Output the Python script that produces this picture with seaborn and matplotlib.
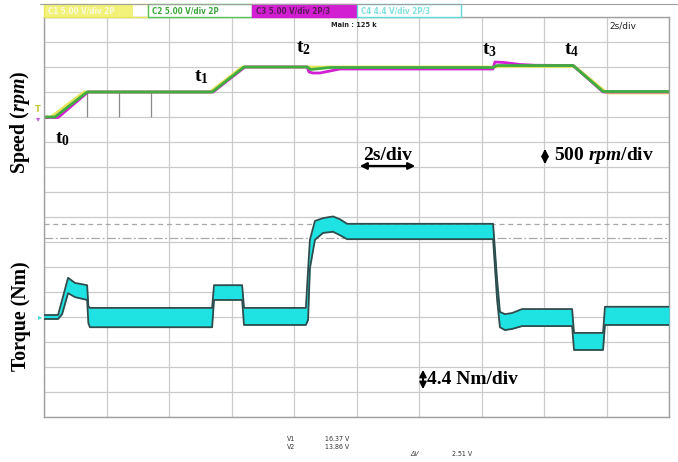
import numpy as np
import pandas as pd
import matplotlib
matplotlib.use("Agg")
import matplotlib.pyplot as plt
from matplotlib.patches import Rectangle, FancyArrowPatch
import seaborn as sns

# ---------------- data ----------------
# speed traces: time (s), speed (rpm)
yellow_t = [0.0, 0.22, 1.28, 5.31, 6.34, 14.43, 14.55, 16.99, 18.02, 20.0]
yellow_v = [0, 0, 500, 500, 1000, 1000, 1010, 1010, 480, 480]

magenta_t = [0.0, 0.45, 1.41, 5.41, 6.43, 8.42, 8.48, 8.61, 8.83, 9.15, 9.47,
             14.37, 14.43, 14.72, 15.23, 15.71, 16.93, 17.89, 20.0]
magenta_v = [-10, -10, 500, 500, 1000, 1000, 900, 880, 880, 920, 960,
             960, 1100, 1090, 1050, 1035, 1030, 500, 500]

green_t = [0.0, 0.35, 1.38, 5.38, 6.40, 8.42, 8.54, 9.15, 14.37, 14.50, 16.93, 17.89, 20.0]
green_v = [0, 0, 500, 500, 1000, 1000, 950, 990, 990, 1030, 1030, 510, 510]

# gray drop marks on speed channel (time, s)
mark_t = [1.38, 2.40, 3.42]

# torque envelope: time (s), upper / lower (Nm)
torque_t = [0.0, 0.45, 0.58, 0.77, 0.99, 1.38, 1.42, 1.47, 5.38, 5.44, 6.34, 6.40,
            8.38, 8.45, 8.51, 8.67, 8.93, 9.25, 9.47, 9.70, 14.37, 14.50, 14.59,
            14.75, 14.98, 15.30, 16.90, 16.96, 17.89, 17.95, 20.0]
torque_up = [0.35, 0.35, 3.0, 6.9, 6.0, 5.6, 1.9, 1.6, 1.6, 5.6, 5.6, 1.6,
             1.6, 8.3, 13.6, 16.9, 17.4, 17.7, 17.2, 16.4, 16.4, 6.5, 0.9,
             0.5, 0.7, 1.4, 1.4, -2.8, -2.8, 1.8, 1.8]
torque_lo = [-0.35, -0.35, 0.5, 4.2, 3.5, 3.0, -1.1, -1.8, -1.8, 3.0, 3.0, -1.4,
             -1.4, -0.5, 8.6, 13.6, 14.8, 15.0, 14.4, 13.7, 13.7, 3.0, -1.8,
             -2.3, -2.1, -1.6, -1.6, -5.8, -5.8, -1.4, -1.4]

# cursors
cursor_v1 = 16.37
cursor_v2 = 13.86

channel_labels = ["C1 5.00 V/div 2P", "C2 5.00 V/div 2P", "C3 5.00 V/div 2P/3", "C4 4.4 V/div 2P/3"]

# ---------------- style ----------------
sns.set_theme(style="white")
plt.rcParams['font.family'] = ['DejaVu Sans']
plt.rcParams['mathtext.fontset'] = 'custom'
plt.rcParams['mathtext.rm'] = 'Liberation Serif:bold'
plt.rcParams['mathtext.bf'] = 'Liberation Serif:bold'
plt.rcParams['mathtext.it'] = 'Liberation Serif:italic:bold'

W, H = 678, 462
fig = plt.figure(figsize=(W / 100, H / 100), dpi=100)
fig.patch.set_facecolor("white")

def fx(x):
    return x / W

def fy(y):
    return 1 - y / H

rect = [44 / W, 1 - 417 / H, 625 / W, 400 / H]
ax_s = fig.add_axes(rect)
ax_t = fig.add_axes(rect, sharex=ax_s)
ax_t.patch.set_alpha(0)

# speed axes = grid owner
ax_s.set_xlim(0, 20)
ax_s.set_ylim(-6000, 2000)
ax_s.set_xticks(np.arange(0, 21, 2))
ax_s.set_yticks(np.arange(-6000, 2001, 500))
ax_s.grid(True, color="#cbcbcb", lw=0.9)
ax_s.tick_params(length=0, labelleft=False, labelbottom=False)
for sp in ax_s.spines.values():
    sp.set_color("#a0a0a0")
    sp.set_linewidth(1.0)

ax_t.set_ylim(-17.6, 52.8)

# cursors
ax_t.axhline(cursor_v1, color="#a8a8a8", lw=0.9, ls=(0, (4, 3)))
ax_t.axhline(cursor_v2, color="#a8a8a8", lw=0.9, ls=(0, (7, 2, 1.5, 2)))

# drop marks
ax_s.vlines(mark_t, 0, 500, color="#8a8a8a", lw=0.9)

# speed traces
df = pd.concat([
    pd.DataFrame({"t": yellow_t, "rpm": yellow_v, "ch": "C1"}),
    pd.DataFrame({"t": magenta_t, "rpm": magenta_v, "ch": "C3"}),
    pd.DataFrame({"t": green_t, "rpm": green_v, "ch": "C2"}),
])
sns.lineplot(data=df, x="t", y="rpm", hue="ch", hue_order=["C1", "C3", "C2"],
             palette={"C1": "#e4e45a", "C3": "#d21fd2", "C2": "#3fae3f"},
             estimator=None, sort=False, lw=2.0, legend=False, ax=ax_s)
ax_s.set_xlabel("")
ax_s.set_ylabel("")

# torque band
ax_t.fill_between(torque_t, torque_lo, torque_up, color="#1fe3e3", lw=0, zorder=3)
sns.lineplot(x=torque_t, y=torque_up, color="#2e4c4c", lw=1.3, estimator=None,
             sort=False, ax=ax_t, zorder=4)
sns.lineplot(x=torque_t, y=torque_lo, color="#2e4c4c", lw=1.3, estimator=None,
             sort=False, ax=ax_t, zorder=4)
ax_t.axis("off")

# ---------------- texts ----------------
serif = dict(family="Liberation Serif", fontweight="bold", color="black")

fig.text(fx(20), fy(122), r"Speed ($\mathit{rpm}$)", rotation=90, ha="center", va="center",
         fontsize=14.3, **serif)
fig.text(fx(21), fy(316), "Torque (Nm)", rotation=90, ha="center", va="center",
         fontsize=14.3, **serif)

for lab, (x, y) in zip(["0", "1", "2", "3", "4"],
                       [(62, 138), (201, 76), (303, 47), (490, 49), (572, 49)]):
    fig.text(fx(x), fy(y), r"$\mathrm{t}_{\mathrm{%s}}$" % lab, ha="center", va="center",
             fontsize=14, color="black")

fig.text(fx(388), fy(155), "2s/div", ha="center", va="center", fontsize=14, **serif)
fig.add_artist(FancyArrowPatch(
    (fx(357), fy(166)), (fx(418), fy(166)), transform=fig.transFigure,
    arrowstyle="<|-|>", mutation_scale=10, lw=1.6, color="black"))

fig.add_artist(FancyArrowPatch(
    (fx(545), fy(146)), (fx(545), fy(167)), transform=fig.transFigure,
    arrowstyle="<|-|>", mutation_scale=10, lw=1.4, color="black"))
fig.text(fx(554), fy(156), r"500 $\mathit{rpm}$/div", ha="left", va="center",
         fontsize=14, **serif)

fig.add_artist(FancyArrowPatch(
    (fx(423), fy(367)), (fx(423), fy(392)), transform=fig.transFigure,
    arrowstyle="<|-|>", mutation_scale=10, lw=1.4, color="black"))
fig.text(fx(427), fy(380), "4.4 Nm/div", ha="left", va="center", fontsize=14, **serif)

# scope header
fig.add_artist(plt.Line2D([fx(40), fx(678)], [fy(4), fy(4)], color="#a0a0a0", lw=0.8))
box_x = [44, 148, 252, 357]
box_w = 104
edge_cols = ["#e8e85a", "#56c456", "#d21fd2", "#5fd8d8"]
fill_cols = ["#f2f27a", "white", "#d21fd2", "white"]
txt_cols = ["#fafae0", "#3aa83a", "#5a1a5a", "#7fe0e0"]
for bx, ec, fc, tc, lab in zip(box_x, edge_cols, fill_cols, txt_cols, channel_labels):
    if bx == 44:
        fig.add_artist(Rectangle((fx(bx), fy(17)), (box_w - 15) / W, 13 / H,
                                 transform=fig.transFigure, facecolor=fc, edgecolor="none"))
        fig.add_artist(Rectangle((fx(bx), fy(17)), box_w / W, 13 / H,
                                 transform=fig.transFigure, facecolor="none", edgecolor=ec, lw=1))
    else:
        fig.add_artist(Rectangle((fx(bx), fy(17)), box_w / W, 13 / H,
                                 transform=fig.transFigure, facecolor=fc, edgecolor=ec, lw=1))
    fig.text(fx(bx + 4), fy(10.5), lab, ha="left", va="center", fontsize=5.8,
             color=tc, fontweight="bold", fontstretch="condensed")

fig.text(fx(354), fy(25), "Main : 125 k", ha="center", va="center", fontsize=4.8,
         fontweight="bold", color="#222222")
fig.text(fx(623), fy(26), "2s/div", ha="center", va="center", fontsize=6.5, color="#222222")

# side markers
fig.text(fx(38), fy(110), "T", ha="center", va="center", fontsize=6, color="#c8c830",
         fontweight="bold")
fig.text(fx(38), fy(119), "\u25BE", ha="center", va="center", fontsize=6, color="#c060e0")
fig.text(fx(40), fy(317), "\u25B8", ha="center", va="center", fontsize=6, color="#40d8d8")

# cursor readout
small = dict(fontsize=5.0, color="#333333", fontstretch="condensed")
fig.text(fx(287), fy(439), "V1", ha="left", va="center", **small)
fig.text(fx(287), fy(447), "V2", ha="left", va="center", **small)
fig.text(fx(325), fy(439), "16.37 V", ha="left", va="center", **small)
fig.text(fx(325), fy(447), "13.86 V", ha="left", va="center", **small)
fig.text(fx(410), fy(454), "\u0394V", ha="left", va="center", style="italic", **small)
fig.text(fx(452), fy(454), "2.51 V", ha="left", va="center", **small)

fig.savefig("out.png", dpi=100, facecolor="white")
